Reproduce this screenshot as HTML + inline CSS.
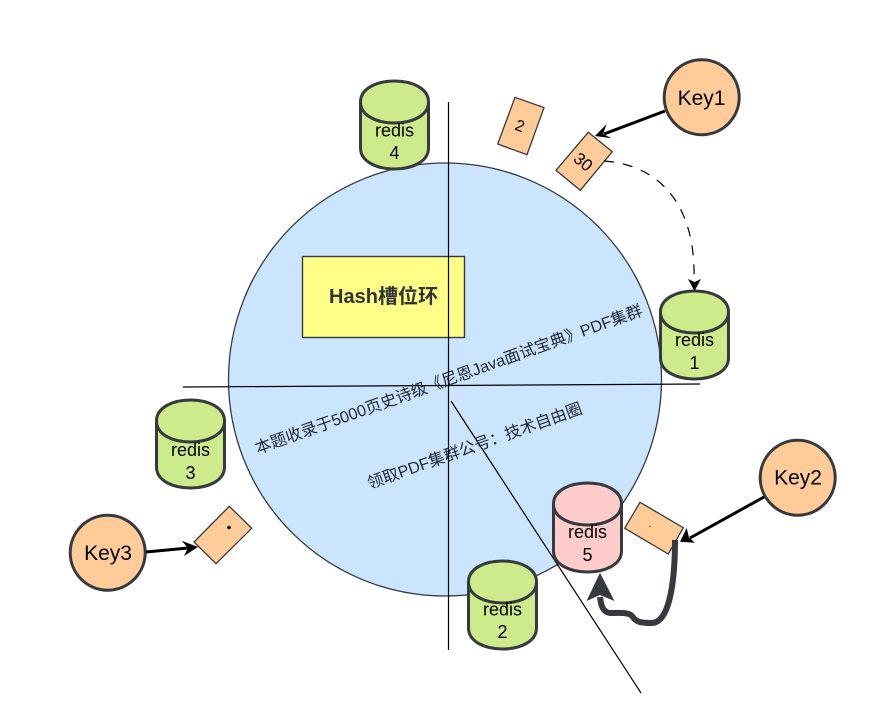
<!DOCTYPE html>
<html>
<head>
<meta charset="utf-8">
<style>
html,body{margin:0;padding:0;background:#fff;}
svg{display:block;}
text{font-family:"Liberation Sans","Noto Sans CJK SC",sans-serif;fill:#000;text-anchor:middle;}
.cyl{stroke:#36393d;stroke-width:3;}
.r{font-size:18px;}
.k{font-size:21px;}
.t{font-size:16.200px;fill:#1c2430;}
</style>
</head>
<body>
<svg width="892" height="710" viewBox="0 0 892 710" xmlns="http://www.w3.org/2000/svg">
<rect width="892" height="710" fill="#fff"/>
<circle cx="445" cy="379.500" r="216.500" fill="#cce5ff" stroke="#36393d" stroke-width="1.300"/>
<rect x="302.500" y="256.500" width="162" height="81" fill="#ffff88" stroke="#36393d" stroke-width="1.400"/>
<text x="383.500" y="303" font-size="20" font-weight="bold" style="fill:#333">Hash槽位环</text>

<g stroke="#000" stroke-width="1.200" fill="none">
<line x1="448.500" y1="102" x2="448.500" y2="650"/>
<line x1="183" y1="387" x2="700" y2="384"/>
<line x1="451" y1="401" x2="641" y2="693"/>
</g>

<text class="t" transform="translate(450.500 384.500) rotate(-19.800)">本题收录于5000页史诗级《尼恩Java面试宝典》PDF集群</text>
<text class="t" transform="translate(476.500 451) rotate(-19.600)">领取PDF集群公号：技术自由圈</text>

<!-- cylinders -->
<g class="cyl" transform="translate(0.500 0)">
<path fill="#cdeb8b" d="M360 102C360 74 428 74 428 102V148C428 176 360 176 360 148Z"/>
<path fill="none" d="M360 102C360 130 428 130 428 102"/>
<path fill="#cdeb8b" d="M660 312C660 284 728 284 728 312V358C728 386 660 386 660 358Z"/>
<path fill="none" d="M660 312C660 340 728 340 728 312"/>
<path fill="#cdeb8b" d="M156 421C156 393 224 393 224 421V467C224 495 156 495 156 467Z"/>
<path fill="none" d="M156 421C156 449 224 449 224 421"/>
<path fill="#cdeb8b" d="M468 582C468 554 536 554 536 582V628C536 656 468 656 468 628Z"/>
<path fill="none" d="M468 582C468 610 536 610 536 582"/>
<path fill="#ffcccc" d="M553 504C553 476 621 476 621 504V551C621 579 553 579 553 551Z"/>
<path fill="none" d="M553 504C553 532 621 532 621 504"/>
</g>
<text class="r" x="394.500" y="136.500">redis</text><text class="r" x="394.500" y="159">4</text>
<text class="r" x="694.500" y="346">redis</text><text class="r" x="694.500" y="369">1</text>
<text class="r" x="190.500" y="456">redis</text><text class="r" x="190.500" y="479">3</text>
<text class="r" x="502.500" y="615.500">redis</text><text class="r" x="502.500" y="638">2</text>
<text class="r" x="587.500" y="538">redis</text><text class="r" x="587.500" y="561">5</text>

<!-- small rects -->
<g fill="#ffcc99" stroke="#36393d" stroke-width="1.300">
<polygon points="515,97.300 544,107.700 527,154.700 497.700,144"/>
<polygon points="588.300,132.300 612.300,151.700 580.300,190.300 556,170.300"/>
<polygon points="640,502.300 683.300,527.700 668.300,554 624.700,528.300"/>
<polygon points="229.300,506.300 251.700,528.300 216,563.700 194,542"/>
</g>
<text font-size="16" dy="5.500" transform="translate(520 125.700) rotate(20)">2</text>
<text font-size="17" dy="6" transform="translate(583.300 161.700) rotate(40)">30</text>
<circle cx="650" cy="526.500" r="0.700" fill="#333"/>
<circle cx="229" cy="527.500" r="1.800" fill="#000"/>

<!-- keys -->
<g fill="#ffcc99" stroke="#36393d" stroke-width="3">
<circle cx="701.700" cy="97.300" r="37.500"/>
<circle cx="797.700" cy="477.700" r="37.500"/>
<circle cx="107.700" cy="552.700" r="37.500"/>
</g>
<text class="k" x="701.500" y="105">Key1</text>
<text class="k" x="798" y="484.700">Key2</text>
<text class="k" x="108" y="560">Key3</text>

<!-- key arrows -->
<g stroke="#000" stroke-width="3" fill="none">
<line x1="665" y1="111" x2="604" y2="134"/>
<line x1="764" y1="497" x2="690" y2="538"/>
<line x1="146" y1="552" x2="188" y2="548"/>
</g>
<polygon points="595,136 606.700,124 603,134 611.700,138.300" fill="#000"/>
<polygon points="680,541.700 686.700,528 689,537.500 695,542.700" fill="#000"/>
<polygon points="198,547 181.700,540.700 188,548 184,556" fill="#000"/>

<!-- dashed -->
<path d="M604 161C660 165 696 205 694 280" fill="none" stroke="#000" stroke-width="1.200" stroke-dasharray="10 9"/>
<polygon points="694.500,291 688,279 694.500,282 701,279" fill="#000"/>

<!-- thick curve -->
<path d="M675 540C675 570 672 622 652 623C640 623 636 622 632 616C628 612 618 613 610 613C603 612 601 606 600 597" fill="none" stroke="#36393d" stroke-width="6"/>
<polygon points="600,572.700 614.500,601 600,595 586.500,601" fill="#36393d"/>
</svg>
</body>
</html>
